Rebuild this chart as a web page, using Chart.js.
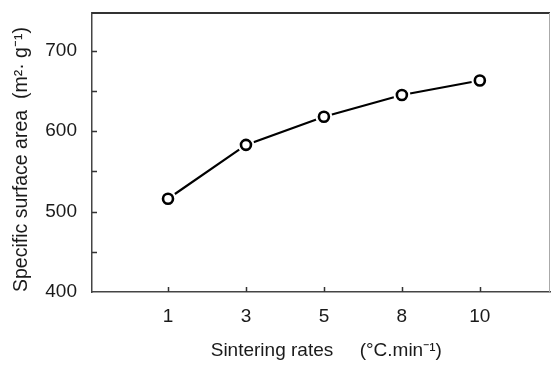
<!DOCTYPE html>
<html>
<head>
<meta charset="utf-8">
<script src="https://cdn.jsdelivr.net/npm/chart.js@4"></script>
<style>
html,body{margin:0;padding:0;background:#fff;}
#wrap{width:551px;height:370px;}
</style>
</head>
<body>
<div id="wrap"><canvas id="c" width="551" height="370"></canvas></div>
<script>
const categories = ['1', '3', '5', '8', '10'];
const surfaceArea = [516, 583, 618, 645, 663];
const yTickValues = [400, 500, 600, 700];
const xTitle = '  Sintering rates     (\u00B0C.min\u207B\u00B9)';
const yTitle = 'Specific surface area  (m\u00B2\u00B7 g\u207B\u00B9)';

const points = surfaceArea.map((v, i) => ({x: i + 1, y: v}));
const FONT = 'Liberation Sans, Arial, sans-serif';

const framePlugin = {
  id: 'frame',
  afterDatasetsDraw(chart) {
    const {ctx, chartArea: a, scales: {x, y}} = chart;
    ctx.save();
    ctx.strokeStyle = '#333';
    ctx.lineWidth = 2;
    ctx.beginPath();
    ctx.moveTo(a.left, a.top); ctx.lineTo(a.right, a.top);
    ctx.stroke();
    ctx.strokeStyle = '#aaa';
    ctx.lineWidth = 1;
    ctx.beginPath();
    ctx.moveTo(a.right - 0.5, a.top); ctx.lineTo(a.right - 0.5, a.bottom);
    ctx.stroke();
    // inward ticks
    ctx.strokeStyle = '#333';
    ctx.lineWidth = 1.5;
    const yVals = [];
    yTickValues.forEach((v, i) => {
      yVals.push(v);
      if (i < yTickValues.length - 1) yVals.push((v + yTickValues[i + 1]) / 2);
    });
    yVals.push(yTickValues[yTickValues.length - 1] + (yTickValues[1] - yTickValues[0]) / 2);
    ctx.beginPath();
    yVals.forEach(v => {
      if (v <= y.min || v >= y.max) return;
      const py = Math.round(y.getPixelForValue(v)) + 0.5;
      ctx.moveTo(a.left, py); ctx.lineTo(a.left + 5, py);
    });
    x.ticks.forEach(t => {
      const px = Math.round(x.getPixelForValue(t.value)) + 0.5;
      ctx.moveTo(px, a.bottom); ctx.lineTo(px, a.bottom - 5);
    });
    ctx.stroke();
    ctx.restore();
  }
};

function noPad(s) {
  s.paddingLeft = 0; s.paddingRight = 0; s.paddingTop = 0; s.paddingBottom = 0;
}

new Chart(document.getElementById('c'), {
  type: 'line',
  data: {
    datasets: [
      {
        data: points,
        showLine: false,
        pointRadius: 5,
        pointBorderWidth: 2.6,
        pointBorderColor: '#000',
        pointBackgroundColor: '#fff',
        order: 1
      },
      {
        data: points,
        showLine: false,
        pointRadius: 8.5,
        pointBorderWidth: 0,
        pointBackgroundColor: '#fff',
        pointBorderColor: '#fff',
        order: 2
      },
      {
        data: points,
        borderColor: '#000',
        borderWidth: 2.2,
        pointRadius: 0,
        fill: false,
        tension: 0,
        order: 3
      }
    ]
  },
  plugins: [framePlugin],
  options: {
    responsive: false,
    animation: false,
    devicePixelRatio: 1,
    layout: {autoPadding: false, padding: {left: 0, right: 1, top: 13, bottom: 4}},
    plugins: {legend: {display: false}, tooltip: {enabled: false}},
    scales: {
      x: {
        type: 'linear',
        min: 0.025,
        max: 5.9,
        afterBuildTicks: s => { s.ticks = categories.map((c, i) => ({value: i + 1})); },
        afterFit: s => { s.height = 74; noPad(s); },
        grid: {display: true, drawOnChartArea: false, drawTicks: false},
        border: {display: true, color: '#444', width: 1.5},
        ticks: {
          callback: v => categories[v - 1] ?? '',
          color: '#1a1a1a',
          font: {family: FONT, size: 19},
          padding: 13,
          maxRotation: 0,
          autoSkip: false
        },
        title: {
          display: true,
          text: xTitle,
          color: '#1a1a1a',
          font: {family: FONT, size: 19},
          padding: {top: 0, bottom: 4}
        }
      },
      y: {
        min: 400,
        max: 747,
        afterBuildTicks: s => { s.ticks = yTickValues.map(v => ({value: v})); },
        afterFit: s => { s.width = 92; noPad(s); },
        grid: {display: true, drawOnChartArea: false, drawTicks: false},
        border: {display: true, color: '#444', width: 1.5},
        ticks: {
          color: '#1a1a1a',
          font: {family: FONT, size: 19},
          padding: 15
        },
        title: {
          display: true,
          text: yTitle,
          align: 'start',
          color: '#1a1a1a',
          font: {family: FONT, size: 19.5},
          padding: {top: 9.5, bottom: 0}
        }
      }
    }
  }
});
</script>
</body>
</html>
